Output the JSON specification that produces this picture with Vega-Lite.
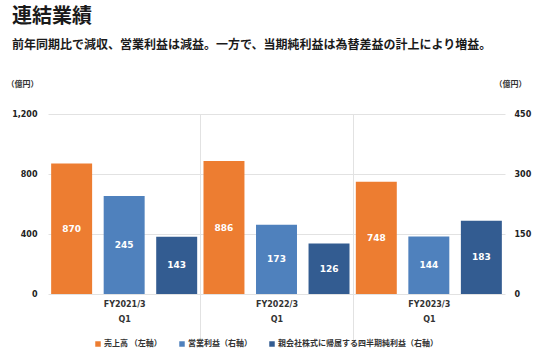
{
  "$schema": "https://vega.github.io/schema/vega-lite/v6.json",
  "width": 457,
  "height": 180,
  "autosize": {"type": "none"},
  "padding": {"left": 48, "top": 114, "right": 45, "bottom": 70},
  "background": "white",
  "title": {
    "text": "連結業績",
    "subtitle": "前年同期比で減収、営業利益は減益。一方で、当期純利益は為替差益の計上により増益。",
    "anchor": "start",
    "frame": "group",
    "dx": -36,
    "offset": 29,
    "font": "Noto Sans CJK JP",
    "fontSize": 20,
    "fontWeight": "bold",
    "color": "#1a1a1a",
    "subtitleFont": "Noto Sans CJK JP",
    "subtitleFontSize": 12,
    "subtitleFontWeight": "bold",
    "subtitleColor": "#1a1a1a",
    "subtitlePadding": 13
  },
  "config": {
    "view": {"stroke": null},
    "axis": {"labelFont": "DejaVu Sans", "titleFont": "Noto Sans CJK JP"},
    "legend": {"labelFont": "Noto Sans CJK JP"}
  },
  "data": {
    "values": [
      {"period": "FY2021/3 Q1", "series": "売上高 （左軸）", "value": 870},
      {"period": "FY2021/3 Q1", "series": "営業利益（右軸）", "value": 245},
      {"period": "FY2021/3 Q1", "series": "親会社株式に帰属する四半期純利益（右軸）", "value": 143},
      {"period": "FY2022/3 Q1", "series": "売上高 （左軸）", "value": 886},
      {"period": "FY2022/3 Q1", "series": "営業利益（右軸）", "value": 173},
      {"period": "FY2022/3 Q1", "series": "親会社株式に帰属する四半期純利益（右軸）", "value": 126},
      {"period": "FY2023/3 Q1", "series": "売上高 （左軸）", "value": 748},
      {"period": "FY2023/3 Q1", "series": "営業利益（右軸）", "value": 144},
      {"period": "FY2023/3 Q1", "series": "親会社株式に帰属する四半期純利益（右軸）", "value": 183}
    ]
  },
  "transform": [{"calculate": "datum.value / 2", "as": "mid"}],
  "encoding": {
    "x": {
      "field": "period",
      "type": "nominal",
      "sort": null,
      "scale": {"paddingInner": 0, "paddingOuter": 0},
      "axis": {
        "title": null,
        "labelAngle": 0,
        "labelExpr": "split(datum.label, ' ')",
        "labelFont": "DejaVu Sans",
        "labelFontSize": 8,
        "labelFontWeight": "bold",
        "labelColor": "#333333",
        "labelLineHeight": 15,
        "labelPadding": -40,
        "domain": false,
        "grid": true,
        "gridColor": {"condition": {"test": "datum.value === 'FY2023/3 Q1' || datum.extra", "value": "transparent"}, "value": "#e2e2e2"},
        "tickBand": "extent",
        "ticks": true,
        "tickSize": 46,
        "tickColor": {"condition": {"test": "datum.value === 'FY2023/3 Q1' || datum.extra", "value": "transparent"}, "value": "#e2e2e2"}
      }
    },
    "xOffset": {
      "field": "series",
      "type": "nominal",
      "sort": null,
      "scale": {
        "domain": ["売上高 （左軸）", "営業利益（右軸）", "親会社株式に帰属する四半期純利益（右軸）"],
        "paddingInner": 0.22,
        "paddingOuter": 0.06
      }
    }
  },
  "layer": [
    {
      "transform": [{"filter": "datum.series === '売上高 （左軸）'"}],
      "layer": [
        {
          "mark": {"type": "bar"},
          "encoding": {
            "y": {
              "field": "value",
              "type": "quantitative",
              "scale": {"domain": [0, 1200], "nice": false},
              "axis": {
                "title": "（億円）",
                "titleAngle": 0,
                "titleAlign": "center",
                "titleBaseline": "middle",
                "titleX": -26,
                "titleY": -30,
                "titleFontSize": 8,
                "titleFontWeight": "bold",
                "titleColor": "#333333",
                "values": [0, 400, 800, 1200],
                "format": ",.0f",
                "labelFontSize": 8,
                "labelFontWeight": "bold",
                "labelColor": "#222222",
                "labelPadding": 11,
                "ticks": false,
                "domain": false,
                "grid": true,
                "gridColor": "#e2e2e2"
              }
            },
            "color": {
              "field": "series",
              "type": "nominal",
              "sort": null,
              "scale": {
                "domain": ["売上高 （左軸）", "営業利益（右軸）", "親会社株式に帰属する四半期純利益（右軸）"],
                "range": ["#ED7D31", "#4F81BD", "#335C91"]
              },
              "legend": {
                "title": null,
                "orient": "none",
                "direction": "horizontal",
                "legendX": 46,
                "legendY": 226,
                "symbolType": "square",
                "symbolSize": 30,
                "symbolStrokeWidth": 0,
                "labelFontSize": 8,
                "labelFontWeight": "bold",
                "labelColor": "#333333",
                "columnPadding": 16,
                "labelOffset": 2
              }
            }
          }
        },
        {
          "mark": {"type": "text", "color": "white", "font": "DejaVu Sans", "fontSize": 9, "fontWeight": "bold"},
          "encoding": {
            "y": {"field": "mid", "type": "quantitative", "title": "（億円）"},
            "text": {"field": "value", "type": "quantitative"}
          }
        }
      ]
    },
    {
      "transform": [{"filter": "datum.series !== '売上高 （左軸）'"}],
      "layer": [
        {
          "mark": {"type": "bar"},
          "encoding": {
            "y": {
              "field": "value",
              "type": "quantitative",
              "scale": {"domain": [0, 450], "nice": false},
              "axis": {
                "orient": "right",
                "title": "（億円）",
                "titleAngle": 0,
                "titleAlign": "center",
                "titleBaseline": "middle",
                "titleX": 5,
                "titleY": -30,
                "titleFontSize": 8,
                "titleFontWeight": "bold",
                "titleColor": "#333333",
                "values": [0, 150, 300, 450],
                "format": ",.0f",
                "labelFontSize": 8,
                "labelFontWeight": "bold",
                "labelColor": "#222222",
                "labelPadding": 9,
                "ticks": false,
                "domain": false,
                "grid": false
              }
            },
            "color": {"field": "series", "type": "nominal", "sort": null}
          }
        },
        {
          "mark": {"type": "text", "color": "white", "font": "DejaVu Sans", "fontSize": 9, "fontWeight": "bold"},
          "encoding": {
            "y": {"field": "mid", "type": "quantitative", "title": "（億円）"},
            "text": {"field": "value", "type": "quantitative"}
          }
        }
      ]
    }
  ],
  "resolve": {"scale": {"y": "independent"}}
}
